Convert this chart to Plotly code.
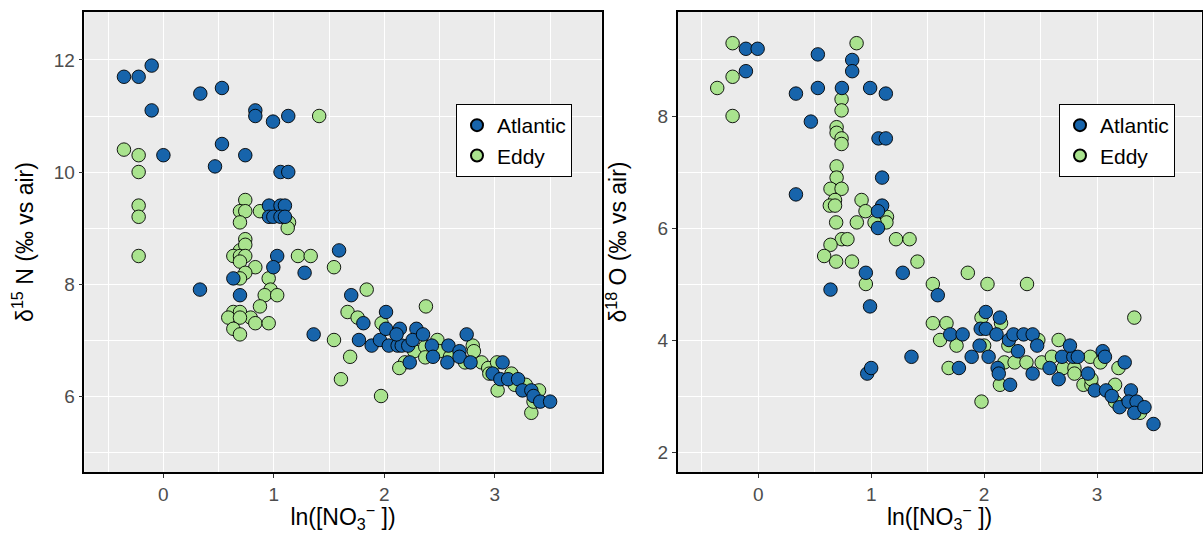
import plotly.graph_objects as go

# ---------------- data ----------------
# Panel 1: d15N vs ln([NO3-])
n15_atl_x = [-0.357, -0.224, -0.106, -0.106, 0.334, 0.53, 0.832, 0.832, 0.992, 1.13, 0.53, 0.0, 0.741, 0.467, 1.06, 1.13,
             0.956, 1.06, 1.10, 0.956, 0.995, 1.06, 1.10,
             1.03, 0.995, 0.633, 0.331, 0.693, 1.278, 1.59, 1.70, 1.36, 1.77, 1.81,
             1.885, 1.96, 2.015, 2.015, 2.04, 2.12, 2.157, 2.14, 2.11, 2.216, 2.23, 2.29, 2.256, 2.35, 2.43, 2.44,
             2.58, 2.57, 2.68, 2.68, 2.745, 2.78, 3.07, 2.98, 3.05, 3.12, 3.21, 3.25, 3.33, 3.35, 3.41, 3.5]
n15_atl_y = [11.7, 11.7, 11.9, 11.1, 11.4, 11.5, 11.1, 11.0, 10.9, 11.0, 10.5, 10.3, 10.3, 10.1, 10.0, 10.0,
             9.4, 9.4, 9.4, 9.2, 9.2, 9.2, 9.2,
             8.5, 8.3, 8.1, 7.9, 7.8, 8.2, 8.6, 7.8, 7.1, 7.0, 7.3,
             6.9, 7.0, 7.5, 7.2, 6.9, 6.9, 6.9, 7.2, 7.1, 6.9, 6.6, 7.2, 7.0, 7.1, 6.9, 6.7,
             6.9, 6.6, 6.8, 6.7, 7.1, 6.6, 6.6, 6.4, 6.3, 6.3, 6.3, 6.1, 6.1, 6.0, 5.9, 5.9]
n15_edd_x = [1.41, -0.357, -0.224, -0.224, -0.224, -0.224, -0.224,
             0.741, 0.693, 0.741, 0.693, 0.874, 1.137, 1.125,
             0.741, 0.693, 0.741, 0.633, 0.693, 0.741, 0.693, 0.832, 0.741, 0.693, 0.953, 0.97, 0.917, 1.03,
             0.874, 0.633, 0.693, 0.587, 0.79, 0.693, 0.832, 0.953, 0.633, 0.693,
             1.218, 1.333, 1.544, 1.544, 1.667, 1.758, 1.84, 2.376, 1.69, 1.607, 1.97, 1.975, 2.186, 2.135,
             2.27, 2.37, 2.37, 2.48, 2.50, 2.594, 2.73, 2.80, 2.81, 2.88, 2.94, 3.02, 2.95, 3.025, 3.15,
             3.18, 3.28, 3.40, 3.33, 3.35]
n15_edd_y = [11.0, 10.4, 10.3, 10.0, 9.4, 9.2, 8.5,
             9.5, 9.3, 9.3, 9.1, 9.3, 9.1, 9.0,
             8.8, 8.6, 8.7, 8.5, 8.5, 8.5, 8.4, 8.3, 8.2, 8.1, 8.1, 7.9, 7.8, 7.8,
             7.6, 7.5, 7.5, 7.4, 7.4, 7.4, 7.3, 7.3, 7.2, 7.1,
             8.5, 8.5, 8.3, 7.0, 7.5, 7.4, 7.9, 7.6, 6.7, 6.3, 6.0, 7.3, 6.6, 6.5,
             6.8, 6.88, 6.69, 7.0, 6.8, 6.7, 6.6, 6.9, 6.8, 6.6, 6.5, 6.6, 6.4, 6.1, 6.4,
             6.2, 6.2, 6.1, 5.7, 5.9]

# Panel 2: d18O vs ln([NO3-])
o18_atl_x = [-0.109, -0.005, -0.109, 0.528, 0.832, 0.832, 0.334, 0.528, 0.741, 0.991, 1.13, 0.466, 1.065, 1.13,
             1.097, 0.334, 1.097, 1.06, 1.06, 0.953, 1.28, 0.64, 1.59, 0.99, 1.70, 1.81, 0.965, 1.0, 1.357,
             1.777, 1.89, 2.015, 2.14, 1.97, 2.015, 2.11, 1.96, 2.04, 2.12, 2.13, 2.23, 2.22, 2.26, 2.35,
             2.30, 2.43, 2.47, 2.43, 2.58, 2.66, 2.69, 2.79, 2.76, 2.83, 2.92, 2.98, 3.05, 3.07, 3.08, 3.13,
             3.245, 3.30, 3.20, 3.28, 3.35, 3.33, 3.42, 3.50]
o18_atl_y = [9.2, 9.2, 8.8, 9.1, 9.0, 8.8, 8.4, 8.5, 8.5, 8.5, 8.4, 7.9, 7.6, 7.6,
             6.9, 6.6, 6.4, 6.3, 6.0, 5.2, 5.2, 4.9, 4.8, 4.6, 4.1, 4.1, 3.4, 3.5, 3.7,
             3.5, 3.7, 4.5, 4.4, 4.2, 4.2, 4.1, 3.9, 3.7, 3.5, 3.4, 3.2, 4.0, 4.1, 4.1,
             3.8, 4.1, 3.9, 3.4, 3.5, 3.3, 3.7, 3.7, 3.9, 3.7, 3.4, 3.1, 3.8, 3.7, 3.1, 3.0,
             3.6, 3.1, 2.8, 2.9, 2.9, 2.7, 2.8, 2.5]
o18_edd_x = [-0.227, -0.227, -0.363, -0.227, 0.871, 0.738, 0.738, 0.694, 0.694, 0.738, 0.738, 0.694, 0.694,
             0.64, 0.738, 0.915, 0.68, 0.634, 0.68, 0.95, 1.14, 1.135, 0.69, 0.873, 1.03, 0.74, 0.79, 0.64,
             1.22, 1.34, 0.584, 0.69, 0.83, 1.41, 0.953, 1.856, 1.546, 1.546, 1.667, 1.61, 1.756, 1.686,
             1.977, 2.03, 2.38, 1.977, 2.15, 2.0, 2.14, 2.215, 2.18, 2.27, 2.375, 2.48, 2.51, 2.60, 2.66,
             2.70, 2.80, 2.80, 2.94, 2.88, 2.95, 3.03, 2.95, 3.16, 3.19, 3.33, 3.38, 3.16]
o18_edd_y = [9.3, 8.7, 8.5, 8.0, 9.3, 8.3, 8.1, 7.8, 7.7, 7.6, 7.5, 7.1, 6.9,
             6.7, 6.7, 6.5, 6.5, 6.4, 6.4, 6.3, 6.2, 6.1, 6.1, 6.1, 6.1, 5.8, 5.8, 5.7,
             5.8, 5.8, 5.5, 5.4, 5.4, 5.4, 5.0, 5.2, 5.0, 4.3, 4.3, 4.0, 3.9, 3.5,
             2.9, 5.0, 5.0, 4.4, 4.3, 3.9, 3.2, 3.9, 3.6, 3.6, 3.6, 4.0, 3.6, 3.7, 4.0,
             3.5, 3.5, 3.4, 3.7, 3.2, 3.2, 3.6, 3.3, 3.2, 3.5, 4.4, 2.7, 2.9]

groups = ["Atlantic", "Eddy"]
colors = {"Atlantic": "#1764AB", "Eddy": "#A9E38E"}

x_ticks = [0, 1, 2, 3]
n15_ticks = [6, 8, 10, 12]
o18_ticks = [2, 4, 6, 8]

# ---------------- figure ----------------
W, H = 1203, 533
fig = go.Figure()

def add(xs, ys, name, xa, ya, legend):
    fig.add_trace(go.Scatter(
        x=xs, y=ys, mode="markers", name=name, xaxis=xa, yaxis=ya, legend=legend,
        legendrank=1 if name == "Atlantic" else 2,
        marker=dict(size=13.5, color=colors[name], line=dict(color="black", width=0.9)),
    ))

# Eddy drawn first so Atlantic sits on top (as in the reference)
add(n15_edd_x, n15_edd_y, "Eddy", "x", "y", "legend")
add(n15_atl_x, n15_atl_y, "Atlantic", "x", "y", "legend")
add(o18_edd_x, o18_edd_y, "Eddy", "x2", "y2", "legend2")
add(o18_atl_x, o18_atl_y, "Atlantic", "x2", "y2", "legend2")

def px(v):
    return v / W

def py(v):
    return 1 - v / H

top, bottom = 12, 472
ydom = [py(bottom), py(top)]

FONT = "Liberation Sans, Arial"
axis_common = dict(
    showline=True, linecolor="black", linewidth=1.6, mirror=True,
    showgrid=True, gridcolor="white", gridwidth=1.1,
    ticks="outside", ticklen=4, tickcolor="#333333", tickwidth=1,
    tickfont=dict(family=FONT, size=19, color="#4D4D4D"),
    zeroline=False,
    title_font=dict(family=FONT, size=23, color="black"),
)

xtitle = "ln([NO<sub>3</sub><sup>−</sup> ])"

fig.update_layout(
    width=W, height=H,
    margin=dict(l=0, r=0, t=0, b=0),
    paper_bgcolor="white", plot_bgcolor="#EBEBEB",
    xaxis=dict(domain=[px(84.4), px(601.7)], range=[-0.715, 3.967], tickvals=x_ticks,
               ticktext=[str(t) for t in x_ticks], anchor="y",
               title=dict(text=xtitle, standoff=2), **axis_common),
    yaxis=dict(domain=ydom, range=[4.643, 12.857], tickvals=n15_ticks,
               ticktext=[str(t) for t in n15_ticks], anchor="x",
               title=dict(text="δ<sup>15</sup> N (‰ vs air)", standoff=14), **axis_common),
    xaxis2=dict(domain=[px(677.7), px(1201.5)], range=[-0.713, 3.925], tickvals=x_ticks,
                ticktext=[str(t) for t in x_ticks], anchor="y2",
                title=dict(text=xtitle, standoff=2), **axis_common),
    yaxis2=dict(domain=ydom, range=[1.643, 9.857], tickvals=o18_ticks,
                ticktext=[str(t) for t in o18_ticks], anchor="x2",
                title=dict(text="δ<sup>18</sup> O (‰ vs air)", standoff=24), **axis_common),
)
fig.update_xaxes(minor=dict(dtick=0.5, tick0=0, showgrid=True, gridcolor="white", gridwidth=0.5, ticks=""))
fig.update_yaxes(minor=dict(dtick=1, tick0=0, showgrid=True, gridcolor="white", gridwidth=0.5, ticks=""))

legend_common = dict(
    bgcolor="white", bordercolor="black", borderwidth=1,
    font=dict(family=FONT, size=21, color="black"),
    xanchor="left", yanchor="top", traceorder="normal",
    itemsizing="constant", tracegroupgap=0, itemwidth=30,
)
fig.update_layout(
    legend=dict(x=px(456), y=py(104), **legend_common),
    legend2=dict(x=px(1059), y=py(104), **legend_common),
)

fig.write_html("out.html")
